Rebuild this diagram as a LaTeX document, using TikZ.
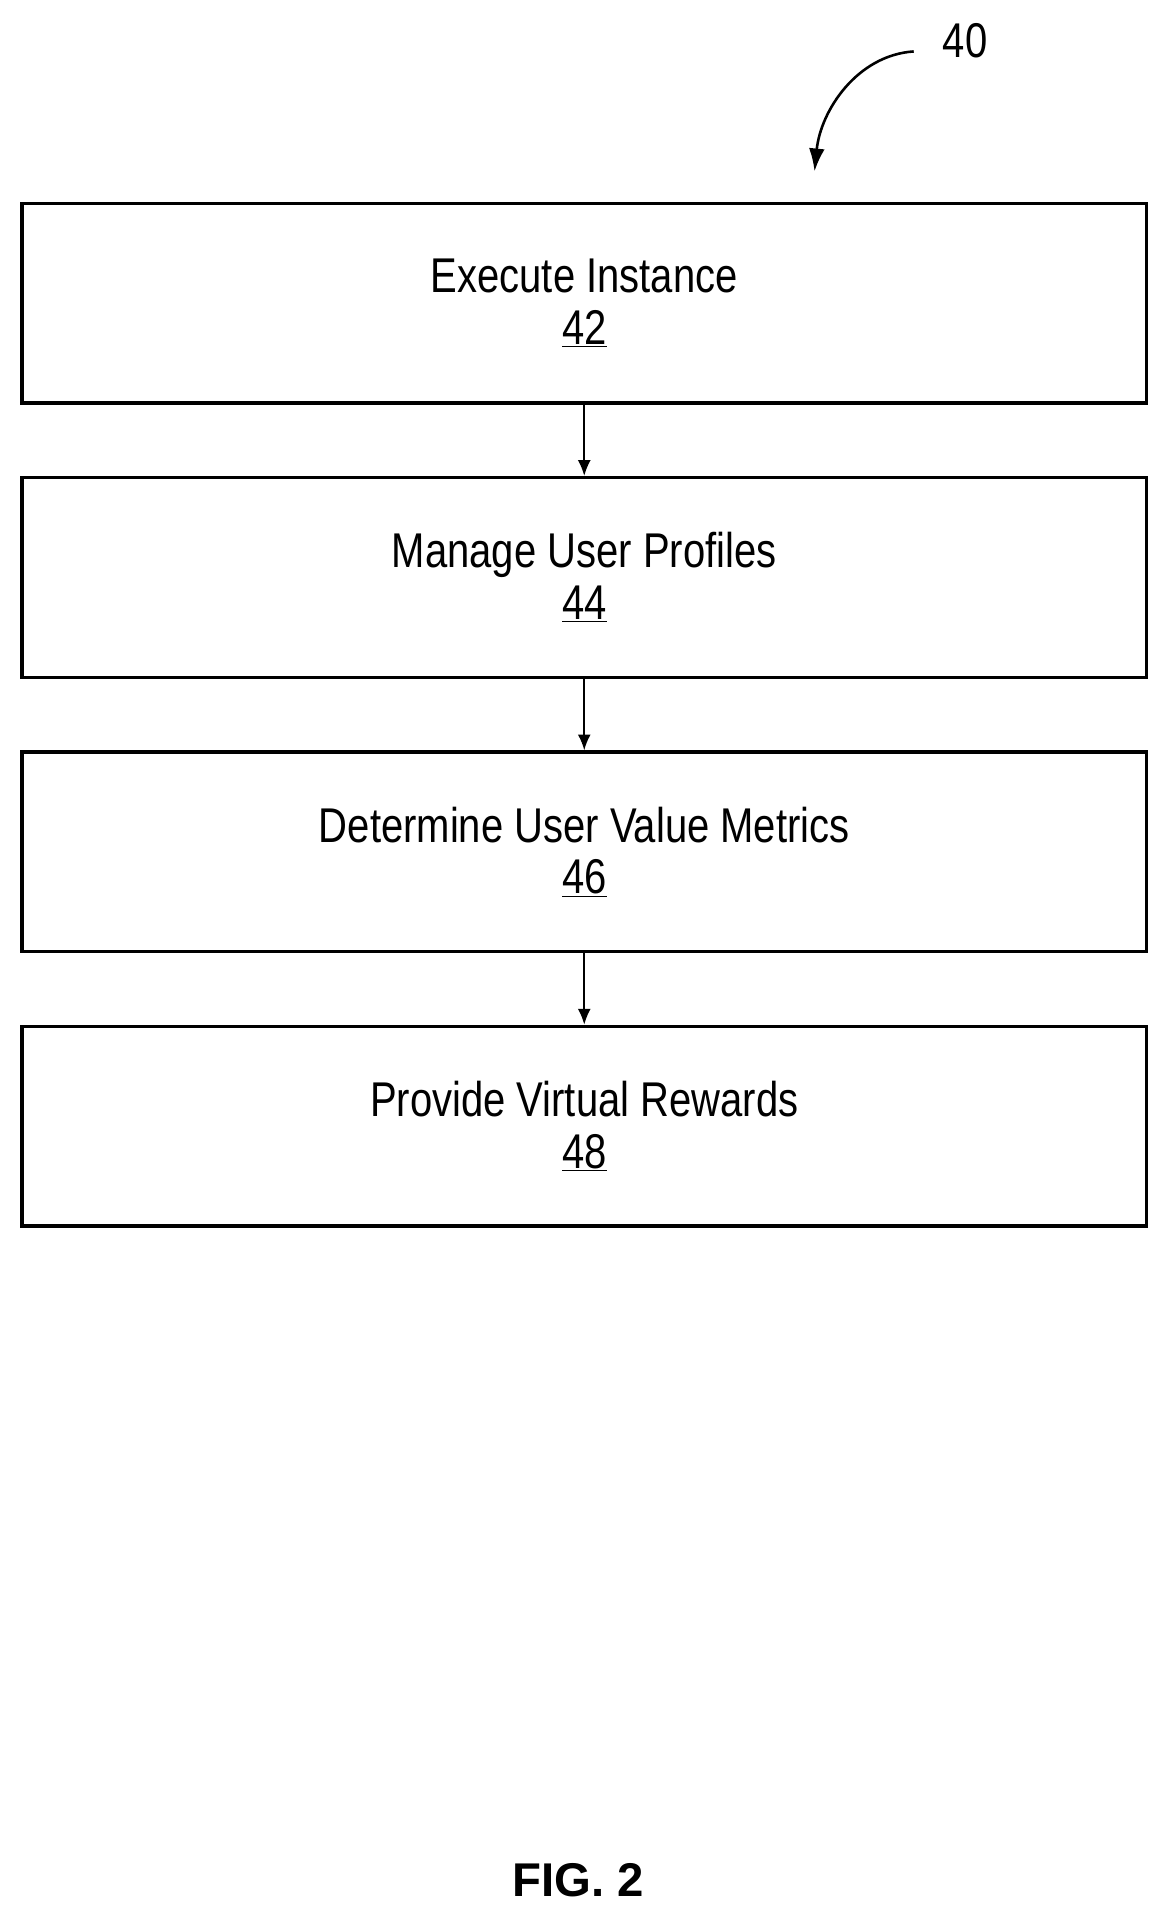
\documentclass[tikz,border=0pt]{standalone}
\usepackage{fontspec}
\setmainfont{Liberation Sans}[FakeStretch=0.82]
\newfontfamily\figfont{Liberation Sans}
\usetikzlibrary{positioning, arrows.meta}

\begin{document}
\begin{tikzpicture}[x=0.03cm, y=-0.03cm, every node/.style={font=\fontsize{34}{40}\selectfont}]
    \tikzset{stepbox/.style={draw, line width=2.4pt, minimum width=27.54cm, minimum height=4.89cm, align=center, inner sep=0pt}}
    \useasboundingbox (0,0) rectangle (955,1570);

    % Flow steps
    \node[stepbox] (s42) at (477,247.5) {\raisebox{-5pt}{Execute Instance}\\[1pt]\underline{42}};
    \node[stepbox] (s44) at (477,471.5) {\raisebox{-5pt}{Manage User Profiles}\\[1pt]\underline{44}};
    \node[stepbox] (s46) at (477,695.5) {\raisebox{-5pt}{Determine User Value Metrics}\\[1pt]\underline{46}};
    \node[stepbox] (s48) at (477,919.5) {\raisebox{-5pt}{Provide Virtual Rewards}\\[1pt]\underline{48}};

    \draw[-{Latex[length=11pt,width=9pt]}, line width=1.3pt] (s42) -- (s44);
    \draw[-{Latex[length=11pt,width=9pt]}, line width=1.3pt] (s44) -- (s46);
    \draw[-{Latex[length=11pt,width=9pt]}, line width=1.3pt] (s46) -- (s48);

    % Reference numeral
    \node (n40) at (788,33) {40};
    \coordinate (c40) at (746,42);
    \coordinate (t40) at (665,140);
    \draw[-{Latex[length=16pt,width=11pt]}, line width=1.8pt] (c40) .. controls (700,45) and (670,90) .. (t40);

    \node[font=\figfont\bfseries\fontsize{33}{38}\selectfont] (fig) at (472,1535) {FIG. 2};
\end{tikzpicture}
\end{document}
